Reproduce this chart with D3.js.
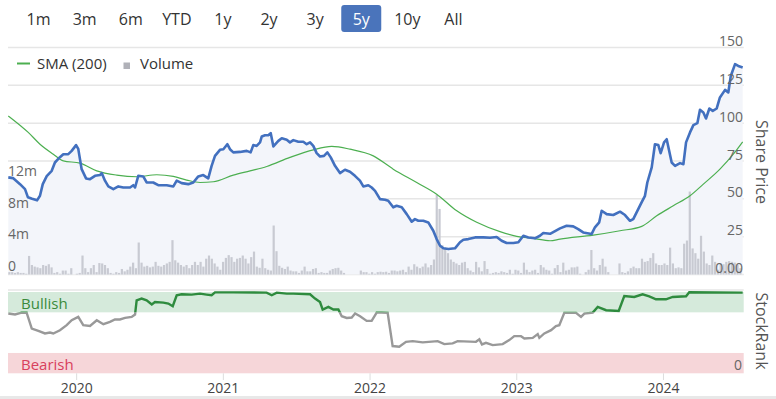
<!DOCTYPE html>
<html>
<head>
<meta charset="utf-8">
<script src="https://cdn.jsdelivr.net/npm/d3@7"></script>
<style>
  body { margin: 0; background: #fff; }
  svg { display: block; font-family: "Open Sans", sans-serif; }
</style>
</head>
<body>
<script>
// Range selector buttons
var rangeLabels = ["1m", "3m", "6m", "YTD", "1y", "2y", "3y", "5y", "10y", "All"];
var rangeSelected = "5y";

// Share price (decimal years)
var priceDates = [
  2019.534, 2019.566, 2019.614, 2019.648, 2019.668, 2019.696, 2019.730, 2019.750, 2019.769, 2019.796,
  2019.830, 2019.852, 2019.886, 2019.909, 2019.943, 2019.966, 2019.996, 2020.011, 2020.034, 2020.064,
  2020.091, 2020.125, 2020.159, 2020.171, 2020.193, 2020.216, 2020.250, 2020.284, 2020.318, 2020.364,
  2020.386, 2020.398, 2020.420, 2020.454, 2020.477, 2020.522, 2020.556, 2020.614, 2020.659, 2020.682,
  2020.716, 2020.761, 2020.795, 2020.829, 2020.863, 2020.897, 2020.920, 2020.943, 2020.977, 2021.000,
  2021.027, 2021.045, 2021.068, 2021.113, 2021.159, 2021.186, 2021.204, 2021.227, 2021.250, 2021.262,
  2021.284, 2021.306, 2021.323, 2021.341, 2021.375, 2021.398, 2021.432, 2021.454, 2021.477, 2021.511,
  2021.545, 2021.568, 2021.591, 2021.613, 2021.636, 2021.659, 2021.686, 2021.709, 2021.732, 2021.761,
  2021.795, 2021.829, 2021.863, 2021.897, 2021.931, 2021.954, 2021.988, 2022.011, 2022.034, 2022.068,
  2022.102, 2022.124, 2022.158, 2022.181, 2022.216, 2022.250, 2022.284, 2022.306, 2022.329, 2022.363,
  2022.397, 2022.431, 2022.454, 2022.477, 2022.500, 2022.534, 2022.579, 2022.613, 2022.636, 2022.670,
  2022.716, 2022.772, 2022.818, 2022.863, 2022.897, 2022.931, 2022.977, 2023.011, 2023.045, 2023.079,
  2023.124, 2023.158, 2023.181, 2023.227, 2023.295, 2023.340, 2023.385, 2023.419, 2023.453, 2023.510,
  2023.533, 2023.562, 2023.579, 2023.613, 2023.658, 2023.704, 2023.738, 2023.772, 2023.794, 2023.817,
  2023.851, 2023.874, 2023.890, 2023.920, 2023.942, 2023.965, 2023.981, 2024.004, 2024.022, 2024.056,
  2024.079, 2024.113, 2024.136, 2024.154, 2024.181, 2024.204, 2024.231, 2024.249, 2024.272, 2024.290,
  2024.313, 2024.336, 2024.363, 2024.385, 2024.420, 2024.442, 2024.459, 2024.488, 2024.510, 2024.540
];
var priceValues = [
  64.2, 63.7, 59.7, 56.4, 51, 50, 49, 52, 59.7, 65,
  68.5, 74, 77.5, 79.5, 79.5, 81.7, 85.5, 83, 69.6, 63.5,
  63, 65.2, 65.7, 67, 62, 58.2, 56.4, 58.2, 57.5, 57.5,
  59, 57.5, 65.2, 64.8, 60.8, 60.8, 59, 59, 58.2, 62,
  60.4, 59.7, 60.8, 64.8, 65.7, 63.5, 71.8, 78.4, 82.4, 82.8,
  86.1, 82.8, 80.7, 81, 81.7, 80.7, 85.5, 85, 87.3, 91.2,
  92, 92, 93.4, 84.6, 88.3, 90, 89, 87.3, 88.8, 87.7,
  87.7, 86.1, 87.3, 85, 80.2, 78, 78.4, 80.7, 77.4, 71.8,
  67, 69.2, 67.9, 65.2, 62, 58.2, 59, 57.5, 55.3, 49.8,
  49.4, 48.7, 44.4, 45.4, 44.4, 39.9, 34.9, 36.6, 35.5, 35.5,
  34.4, 28.9, 23.4, 19, 17.3, 16.8, 17.3, 21.3, 23, 23.4,
  24.5, 24.5, 24.3, 24.8, 22.3, 20.8, 20.8, 21.3, 25.6, 24.5,
  23.9, 25.6, 27.4, 26.9, 30.5, 32.2, 31.8, 30, 27.8, 26.7,
  31.2, 34.5, 42.1, 39.9, 39.3, 41.5, 39.3, 35.5, 36.6, 41,
  47.7, 52, 60.8, 70.8, 86.1, 85.5, 80.2, 87.3, 89.4, 74,
  71.8, 73.6, 72.9, 87.3, 93.9, 98.7, 100, 108.8, 107, 103.1,
  109.7, 108.1, 109.7, 117, 122, 120.3, 131.2, 139, 137.8, 136.8
];

// SMA (200)
var smaDates = [
  2019.534, 2019.670, 2019.750, 2019.841, 2019.909, 2020.023, 2020.137, 2020.273, 2020.409, 2020.546,
  2020.659, 2020.750, 2020.841, 2020.932, 2021.068, 2021.182, 2021.296, 2021.454, 2021.613, 2021.739,
  2021.863, 2022.022, 2022.158, 2022.318, 2022.454, 2022.591, 2022.727, 2022.886, 2023.000, 2023.113,
  2023.227, 2023.295, 2023.522, 2023.704, 2023.852, 2023.954, 2024.067, 2024.181, 2024.272, 2024.385,
  2024.476, 2024.540
];
var smaValues = [
  104.8, 93.9, 86.1, 79.5, 75.1, 73.6, 68.5, 65.7, 64.6, 65.9,
  64.8, 62.4, 60.8, 61.3, 65.7, 68.5, 71.4, 77.4, 82.4, 84.6,
  82.8, 78.4, 69.6, 60.8, 53.1, 42.1, 34.5, 28.3, 25.2, 23.9,
  22.3, 23.4, 26, 28.9, 31.8, 38.8, 45.4, 52, 59.7, 69.6,
  79.5, 87.7
];

// Weekly volume, millions, first week starting mid July 2019
var volumeStart = 2019.532;
var volumeValues = [
  0.3, 0.3, 0.2, 0.3, 0.2, 0.2, 0.1, 2.35, 1.2, 1.0,
  0.9, 0.8, 1.2, 1.1, 1.3, 0.9, 0.2, 0.3, 0.1, 0.5,
  0.5, 0.1, 0.8, 0, 0.1, 0.2, 2.4, 0.8, 0.3, 0.8,
  1.2, 0.3, 1.45, 1.4, 1.2, 0.8, 0.2, 0.1, 0.3, 0.2,
  0.7, 0.4, 0.6, 1.0, 1.5, 0.8, 4.05, 1.5, 1.0, 1.1,
  0.9, 1.0, 1.6, 1.1, 1.0, 1.2, 1.4, 1.6, 4.35, 1.8,
  1.5, 1.2, 1.0, 1.2, 0.8, 1.2, 1.6, 1.2, 1.6, 1.0,
  2.0, 2.4, 2.0, 1.4, 1.0, 0.6, 1.6, 2.1, 2.45, 2.2,
  1.6, 2.0, 2.1, 2.4, 2.0, 1.4, 2.2, 2.9, 1.0, 0.85,
  2.0, 0.8, 0.6, 0.5, 6.2, 2.95, 1.1, 0.85, 0.7, 1.0,
  0.5, 0.4, 0.4, 0.2, 0.5, 1.0, 0.4, 0.4, 0.7, 0.8,
  0.2, 0.3, 0.2, 0.2, 0.5, 0.7, 0.8, 0.85, 0.5, 0.2,
  0, 0, 0, 0, 0, 0.5, 0.3, 0.3, 0.1, 0.3,
  0.1, 0.3, 0.35, 0.3, 0.35, 0.2, 0.5, 0.5, 0.4, 0.5,
  0.6, 0.3, 1.0, 0.6, 1.3, 1.0, 0.8, 1.0, 1.4, 0.9,
  1.2, 1.9, 10.1, 8.3, 3.7, 3.3, 2.7, 1.9, 1.6, 1.4,
  1.2, 1.5, 1.6, 0.8, 0.5, 0.3, 1.6, 0.9, 0.4, 1.7,
  0.7, 0.1, 0.2, 0.3, 0.2, 0.4, 0.3, 0.2, 0.6, 0.1,
  0.6, 0.5, 0.2, 1.5, 0.6, 0.3, 0.5, 0.6, 0.2, 1.2,
  0.9, 0.6, 0.5, 0.1, 0.8, 1.2, 0.3, 1.5, 0.5, 0.6,
  0.9, 0.9, 1.0, 0.1, 0, 0.3, 0.6, 3.1, 0.8, 0.5,
  1.2, 2.0, 1.0, 0.3, 0, 0, 0, 1.4, 0.3, 0.2,
  0.4, 0.8, 1.0, 0.8, 0.8, 2.0, 1.6, 1.7, 2.1, 2.7,
  1.4, 1.2, 1.2, 1.4, 1.2, 3.4, 1.4, 0.8, 0.9, 0.8,
  3.9, 4.3, 10.5, 3.3, 2.7, 2.0, 4.9, 2.9, 1.4, 1.2,
  2.4, 1.6, 0.6, 1.4, 1.3, 1.6, 1.7, 1.6, 1.5, 1.2, 0.8
];

// StockRank
var rankDates = [
  2019.534, 2019.580, 2019.625, 2019.659, 2019.694, 2019.739, 2019.784, 2019.818, 2019.841, 2019.886,
  2019.932, 2019.966, 2020.011, 2020.045, 2020.091, 2020.137, 2020.182, 2020.227, 2020.261, 2020.295,
  2020.330, 2020.375, 2020.398, 2020.409, 2020.443, 2020.477, 2020.512, 2020.534, 2020.591, 2020.625,
  2020.655, 2020.682, 2020.716, 2020.784, 2020.841, 2020.886, 2020.920, 2020.943, 2021.068, 2021.295,
  2021.330, 2021.364, 2021.432, 2021.477, 2021.591, 2021.625, 2021.659, 2021.677, 2021.716, 2021.750,
  2021.784, 2021.807, 2021.841, 2021.875, 2021.898, 2021.932, 2021.977, 2022.011, 2022.045, 2022.079,
  2022.120, 2022.154, 2022.199, 2022.245, 2022.291, 2022.359, 2022.461, 2022.506, 2022.563, 2022.597,
  2022.722, 2022.745, 2022.763, 2022.790, 2022.836, 2022.904, 2022.949, 2022.983, 2023.029, 2023.052,
  2023.109, 2023.143, 2023.154, 2023.188, 2023.234, 2023.267, 2023.290, 2023.324, 2023.404, 2023.438,
  2023.461, 2023.518, 2023.552, 2023.609, 2023.695, 2023.733, 2023.801, 2023.858, 2023.903, 2023.949,
  2024.017, 2024.063, 2024.154, 2024.176, 2024.540
];
var rankValues = [
  73.5, 72.3, 74.6, 74.5, 55, 52.2, 49, 50.2, 49, 53,
  59.2, 65.3, 69.4, 59.2, 58.3, 65.3, 60.4, 63.2, 66.2, 66.2,
  68.1, 69.4, 72.3, 89.8, 91.9, 89.8, 84.6, 87.7, 87, 85.8,
  82.5, 96, 97.2, 96.8, 98, 96.8, 96, 99.6, 99.6, 99.2,
  96, 99.2, 98, 98, 97.2, 91.9, 87.7, 78.4, 81.6, 78.4,
  78.4, 70.2, 68.1, 68.6, 73.5, 70.2, 64.5, 64.5, 74.6, 74.6,
  74.3, 33.5, 32.6, 38.7, 39.6, 38, 39.6, 35.9, 36.8, 39.6,
  38.7, 41.7, 35.5, 37.5, 34.7, 35.9, 40.8, 45.7, 45.7, 42.9,
  43.6, 48.2, 43.6, 49, 53.1, 58, 59.2, 74.3, 74.3, 69.4,
  73.5, 74.6, 81.6, 77.6, 76.7, 95.1, 93.9, 97.2, 94.7, 91,
  91, 93.9, 94.7, 99.6, 99.2
];

// Axis ticks
var yearTicks = [2020, 2021, 2022, 2023, 2024];
var priceTicks = [0, 25, 50, 75, 100, 125, 150];
var priceTickLabels = ["0.00", "25", "50", "75", "100", "125", "150"];
var volumeTicks = [0, 4, 8, 12];
var volumeTickLabels = ["0", "4m", "8m", "12m"];
var rankBands = [
  { name: "Bullish", from: 75, to: 100 },
  { name: "Bearish", from: 0, to: 25 }
];

var w = 776, h = 399;

var svg = d3.select("body").append("svg")
  .attr("width", w)
  .attr("height", h);

// scales
var x = d3.scaleLinear().domain([2019.532, 2024.547]).range([8, 743.7]);
var yPrice = d3.scaleLinear().domain([0, 150]).range([274.5, 47.5]);
var yVol = d3.scaleLinear().domain([0, 12]).range([274.5, 179.7]);
var yRank = d3.scaleLinear().domain([0, 100]).range([373.3, 292]);

// range selector
var btn = d3.scaleBand().domain(rangeLabels).range([15.5, 476.5]);
var buttons = svg.append("g").attr("class", "range");
buttons.selectAll("rect")
  .data(rangeLabels.filter(function(d){ return d === rangeSelected; }))
  .enter().append("rect")
  .attr("x", function(d){ return btn(d) + btn.bandwidth() / 2 - 20; })
  .attr("y", 5)
  .attr("width", 40)
  .attr("height", 27)
  .attr("rx", 3)
  .style("fill", "#4a74bb");
buttons.selectAll("text")
  .data(rangeLabels)
  .enter().append("text")
  .attr("x", function(d){ return btn(d) + btn.bandwidth() / 2; })
  .attr("y", 25)
  .attr("text-anchor", "middle")
  .style("font-size", "16px")
  .style("fill", function(d){ return d === rangeSelected ? "#fff" : "#333"; })
  .text(function(d){ return d; });

// price grid
svg.append("g").selectAll("line")
  .data(priceTicks)
  .enter().append("line")
  .attr("x1", 8).attr("x2", 743.7)
  .attr("y1", function(d){ return yPrice(d); })
  .attr("y2", function(d){ return yPrice(d); })
  .style("stroke", "#e6e6e6")
  .style("stroke-width", 1.5);

var priceData = priceDates.map(function(t, i){ return [t, priceValues[i]]; });

// area under the price line
svg.append("path")
  .datum(priceData)
  .attr("d", d3.area()
    .x(function(d){ return x(d[0]); })
    .y0(yPrice(0))
    .y1(function(d){ return yPrice(d[1]); }))
  .style("fill", "#f3f5fa");

// volume bars
svg.append("g").selectAll("rect")
  .data(volumeValues)
  .enter().append("rect")
  .attr("x", function(d, i){ return x(volumeStart + (i + 0.5) * 7 / 365.25) - 1.1; })
  .attr("y", function(d){ return yVol(d); })
  .attr("width", 2.2)
  .attr("height", function(d){ return yVol(0) - yVol(d); })
  .style("fill", "#c8cad2");

// SMA line
svg.append("path")
  .datum(smaDates.map(function(t, i){ return [t, smaValues[i]]; }))
  .attr("d", d3.line()
    .curve(d3.curveMonotoneX)
    .x(function(d){ return x(d[0]); })
    .y(function(d){ return yPrice(d[1]); }))
  .style("fill", "none")
  .style("stroke", "#4caf50")
  .style("stroke-width", 1.2);

// price line
svg.append("path")
  .datum(priceData)
  .attr("d", d3.line()
    .x(function(d){ return x(d[0]); })
    .y(function(d){ return yPrice(d[1]); }))
  .style("fill", "none")
  .style("stroke", "#4270bf")
  .style("stroke-width", 2.6)
  .style("stroke-linejoin", "round");

// price labels (right)
svg.append("g").selectAll("text")
  .data(priceTicks)
  .enter().append("text")
  .attr("x", 743)
  .attr("y", function(d){ return yPrice(d) - 1.5; })
  .attr("text-anchor", "end")
  .style("font-size", "14px")
  .style("fill", "#666")
  .text(function(d, i){ return priceTickLabels[i]; });

// volume labels (left)
svg.append("g").selectAll("text")
  .data(volumeTicks)
  .enter().append("text")
  .attr("x", 8)
  .attr("y", function(d){ return yVol(d) - 3.5; })
  .style("font-size", "14px")
  .style("fill", "#666")
  .text(function(d, i){ return volumeTickLabels[i]; });

// legend
var legend = svg.append("g");
legend.append("line")
  .attr("x1", 17).attr("x2", 30).attr("y1", 63.5).attr("y2", 63.5)
  .style("stroke", "#4caf50").style("stroke-width", 2);
legend.append("text")
  .attr("x", 37).attr("y", 68.5)
  .style("font-size", "15px").style("fill", "#333")
  .text("SMA (200)");
legend.append("rect")
  .attr("x", 123.5).attr("y", 62.5).attr("width", 6.5).attr("height", 6.5)
  .style("fill", "#b0b1b8");
legend.append("text")
  .attr("x", 140).attr("y", 68.5)
  .style("font-size", "15px").style("fill", "#333")
  .text("Volume");

// axis titles
svg.append("text")
  .attr("transform", "translate(756,162) rotate(90)")
  .attr("text-anchor", "middle")
  .style("font-size", "16px").style("fill", "#555")
  .text("Share Price");
svg.append("text")
  .attr("transform", "translate(756,331) rotate(90)")
  .attr("text-anchor", "middle")
  .style("font-size", "16px").style("fill", "#555")
  .text("StockRank");

// StockRank panel
svg.append("line")
  .attr("x1", 8).attr("x2", 743.7).attr("y1", 290).attr("y2", 290)
  .style("stroke", "#e6e6e6").style("stroke-width", 1.5);

var bands = svg.append("g");
bands.selectAll("rect")
  .data(rankBands)
  .enter().append("rect")
  .attr("x", 8)
  .attr("width", 735.7)
  .attr("y", function(d){ return yRank(d.to); })
  .attr("height", function(d){ return yRank(d.from) - yRank(d.to); })
  .style("fill", function(d){ return d.name === "Bullish" ? "#d5eadb" : "#f6d6d9"; });
bands.selectAll("text")
  .data(rankBands)
  .enter().append("text")
  .attr("x", 21)
  .attr("y", function(d){ return yRank(d.from) - 3; })
  .style("font-size", "15px")
  .style("fill", function(d){ return d.name === "Bullish" ? "#3b8a3b" : "#d8405c"; })
  .text(function(d){ return d.name; });

svg.append("text")
  .attr("x", 742).attr("y", yRank(0) - 3.5)
  .attr("text-anchor", "end")
  .style("font-size", "14px").style("fill", "#666")
  .text("0");

// stockrank line, grey below 75, green above
var cut = yRank(75);
var defs = svg.append("defs");
defs.append("clipPath").attr("id", "clipHi")
  .append("rect").attr("x", 0).attr("y", 0).attr("width", w).attr("height", cut);
defs.append("clipPath").attr("id", "clipLo")
  .append("rect").attr("x", 0).attr("y", cut).attr("width", w).attr("height", h - cut);

var rankLine = d3.line()
  .x(function(d){ return x(d[0]); })
  .y(function(d){ return yRank(d[1]); });
var rankData = rankDates.map(function(t, i){ return [t, rankValues[i]]; });

svg.append("path")
  .datum(rankData)
  .attr("d", rankLine)
  .attr("clip-path", "url(#clipLo)")
  .style("fill", "none").style("stroke", "#999").style("stroke-width", 2.4);
svg.append("path")
  .datum(rankData)
  .attr("d", rankLine)
  .attr("clip-path", "url(#clipHi)")
  .style("fill", "none").style("stroke", "#2e8b3e").style("stroke-width", 2.4);

// x axis
var xAxis = svg.append("g");
xAxis.selectAll("line")
  .data(yearTicks)
  .enter().append("line")
  .attr("x1", function(d){ return x(d); })
  .attr("x2", function(d){ return x(d); })
  .attr("y1", 373.3).attr("y2", 380)
  .style("stroke", "#ddd").style("stroke-width", 1);
xAxis.selectAll("text")
  .data(yearTicks)
  .enter().append("text")
  .attr("x", function(d){ return x(d); })
  .attr("y", 393)
  .attr("text-anchor", "middle")
  .style("font-size", "14px").style("fill", "#444")
  .text(function(d){ return d; });

// scrollbar strip at the bottom
svg.append("rect")
  .attr("x", 0).attr("y", 396).attr("width", w).attr("height", 3)
  .style("fill", "#e8e8e8");
</script>
</body>
</html>
